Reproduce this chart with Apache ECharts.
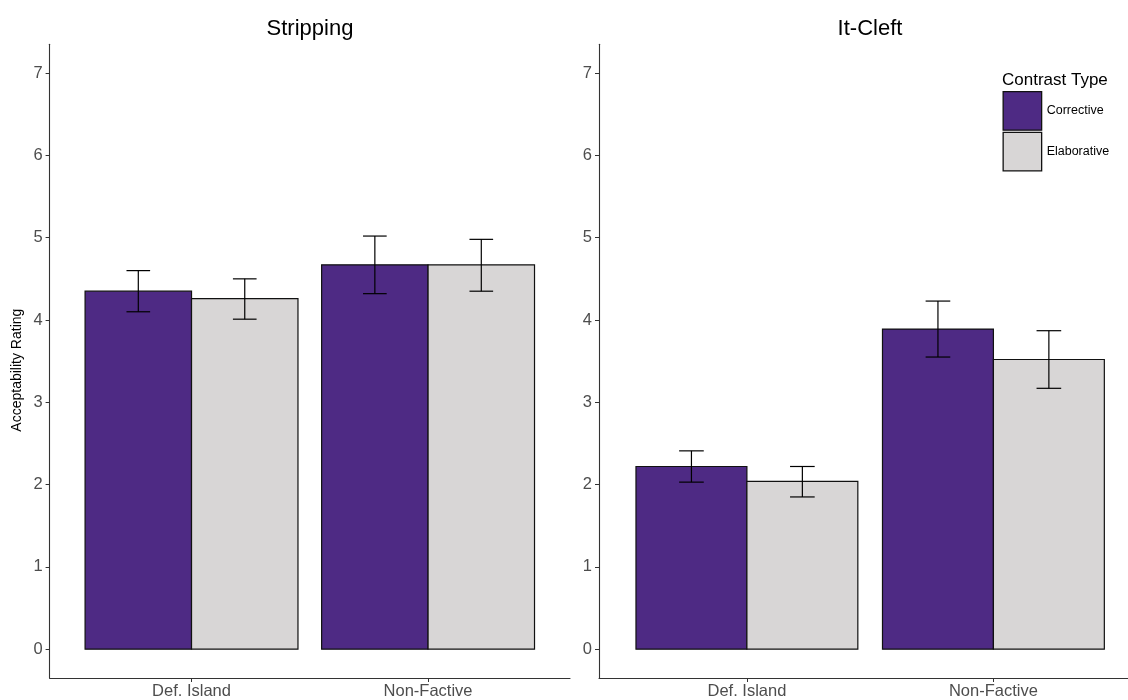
<!DOCTYPE html>
<html>
<head>
<meta charset="utf-8">
<script src="https://cdn.jsdelivr.net/npm/echarts@6/dist/echarts.min.js"></script>
<style>html,body{margin:0;padding:0;background:#fff}#c{width:1128px;height:700px}</style>
</head>
<body>
<div id="c"></div>
<script>
// ---- data ----
const categories = ["Def. Island", "Non-Factive"];
const contrastTypes = ["Corrective", "Elaborative"];
const panels = ["Stripping", "It-Cleft"];
const yTicks = [0, 1, 2, 3, 4, 5, 6, 7];

// Stripping
const strippingCorrective      = [4.35, 4.67];
const strippingCorrectiveLow   = [4.10, 4.32];
const strippingCorrectiveHigh  = [4.60, 5.02];
const strippingElaborative     = [4.26, 4.67];
const strippingElaborativeLow  = [4.01, 4.35];
const strippingElaborativeHigh = [4.50, 4.98];
// It-Cleft
const itCleftCorrective      = [2.22, 3.89];
const itCleftCorrectiveLow   = [2.03, 3.55];
const itCleftCorrectiveHigh  = [2.41, 4.23];
const itCleftElaborative     = [2.04, 3.52];
const itCleftElaborativeLow  = [1.85, 3.17];
const itCleftElaborativeHigh = [2.22, 3.87];

const COLORS = { Corrective: "#4E2A84", Elaborative: "#D8D6D6" };
const FONT = "'Liberation Sans', Arial, sans-serif";
const BAR_W = 0.45, CAP_W = 0.1;

function rows(vals, lo, hi) {
  return vals.map((v, i) => [i + 1, v, lo[i], hi[i]]);
}

function makeSeries(name, gridIdx, data, offset) {
  return {
    type: "custom",
    name: name,
    xAxisIndex: gridIdx,
    yAxisIndex: gridIdx,
    data: data,
    itemStyle: { color: COLORS[name], borderColor: "#000", borderWidth: 1 },
    renderItem: function (params, api) {
      const x = api.value(0) + offset;
      const v = api.value(1), lo = api.value(2), hi = api.value(3);
      const p0 = api.coord([x - BAR_W / 2, 0]);
      const p1 = api.coord([x + BAR_W / 2, v]);
      const cLo = api.coord([x, lo]);
      const cHi = api.coord([x, hi]);
      const capL = api.coord([x - CAP_W / 2, lo])[0];
      const capR = api.coord([x + CAP_W / 2, lo])[0];
      const lineStyle = { stroke: "#000", lineWidth: 1.2 };
      return {
        type: "group",
        children: [
          { type: "rect", shape: { x: p0[0], y: p1[1], width: p1[0] - p0[0], height: p0[1] - p1[1] },
            style: { fill: COLORS[name], stroke: "#111", lineWidth: 1.2 } },
          { type: "line", shape: { x1: cLo[0], y1: cLo[1], x2: cHi[0], y2: cHi[1] }, style: lineStyle },
          { type: "line", shape: { x1: capL, y1: cLo[1], x2: capR, y2: cLo[1] }, style: lineStyle },
          { type: "line", shape: { x1: capL, y1: cHi[1], x2: capR, y2: cHi[1] }, style: lineStyle }
        ]
      };
    }
  };
}

function xAxis(gridIdx, max) {
  return {
    type: "value", gridIndex: gridIdx, min: 0.4, max: max,
    axisLine: { show: true, onZero: false, lineStyle: { color: "#333", width: 1.1 } },
    axisTick: { show: true, length: 4, customValues: [1, 2], lineStyle: { color: "#333" } },
    axisLabel: { customValues: [1, 2], formatter: v => categories[Math.round(v) - 1] || "",
      color: "#4D4D4D", fontSize: 16.5, fontFamily: FONT, margin: 5 },
    splitLine: { show: false }
  };
}
function yAxis(gridIdx, name) {
  return {
    type: "value", gridIndex: gridIdx, min: -0.35, max: 7.35,
    name: name, nameLocation: "middle", nameGap: 25, nameRotate: 90,
    nameTextStyle: { color: "#000", fontSize: 14, fontFamily: FONT, padding: [0, 18, 0, 0] },
    axisLine: { show: true, onZero: false, lineStyle: { color: "#333", width: 1.1 } },
    axisTick: { show: true, length: 4, customValues: yTicks, lineStyle: { color: "#333" } },
    axisLabel: { customValues: yTicks, color: "#4D4D4D", fontSize: 16.5, fontFamily: FONT, margin: 7 },
    splitLine: { show: false }
  };
}

const chart = echarts.init(document.getElementById("c"), null, { renderer: "canvas" });
chart.setOption({
  animation: false,
  backgroundColor: "#fff",
  title: [
    { text: panels[0], left: 310, top: 18, padding: 0, textAlign: "center",
      textStyle: { fontSize: 22, fontWeight: "normal", color: "#000", fontFamily: FONT } },
    { text: panels[1], left: 870, top: 18, padding: 0, textAlign: "center",
      textStyle: { fontSize: 22, fontWeight: "normal", color: "#000", fontFamily: FONT } },
    { text: "Contrast Type", left: 1002, top: 72, padding: 0,
      textStyle: { fontSize: 17, fontWeight: "normal", color: "#000", fontFamily: FONT } }
  ],
  legend: {
    orient: "vertical", left: 1002.5, top: 91, padding: 0,
    itemWidth: 38.5, itemHeight: 38.5, itemGap: 1,
    icon: "rect",
    itemStyle: { borderColor: "#111", borderWidth: 1.3 },
    textStyle: { fontSize: 12.5, color: "#000", fontFamily: FONT },
    data: contrastTypes.map(n => ({ name: n, itemStyle: { color: COLORS[n] } }))
  },
  grid: [
    { left: 49.6, top: 44.3, width: 520.4, height: 634.6 },
    { left: 599, top: 44.3, width: 529, height: 634.6 }
  ],
  xAxis: [xAxis(0, 2.6), xAxis(1, 2.546)],
  yAxis: [yAxis(0, "Acceptability Rating"), yAxis(1, "")],
  series: [
    makeSeries("Corrective", 0, rows(strippingCorrective, strippingCorrectiveLow, strippingCorrectiveHigh), -0.225),
    makeSeries("Elaborative", 0, rows(strippingElaborative, strippingElaborativeLow, strippingElaborativeHigh), 0.225),
    makeSeries("Corrective", 1, rows(itCleftCorrective, itCleftCorrectiveLow, itCleftCorrectiveHigh), -0.225),
    makeSeries("Elaborative", 1, rows(itCleftElaborative, itCleftElaborativeLow, itCleftElaborativeHigh), 0.225)
  ]
});
</script>
</body>
</html>
